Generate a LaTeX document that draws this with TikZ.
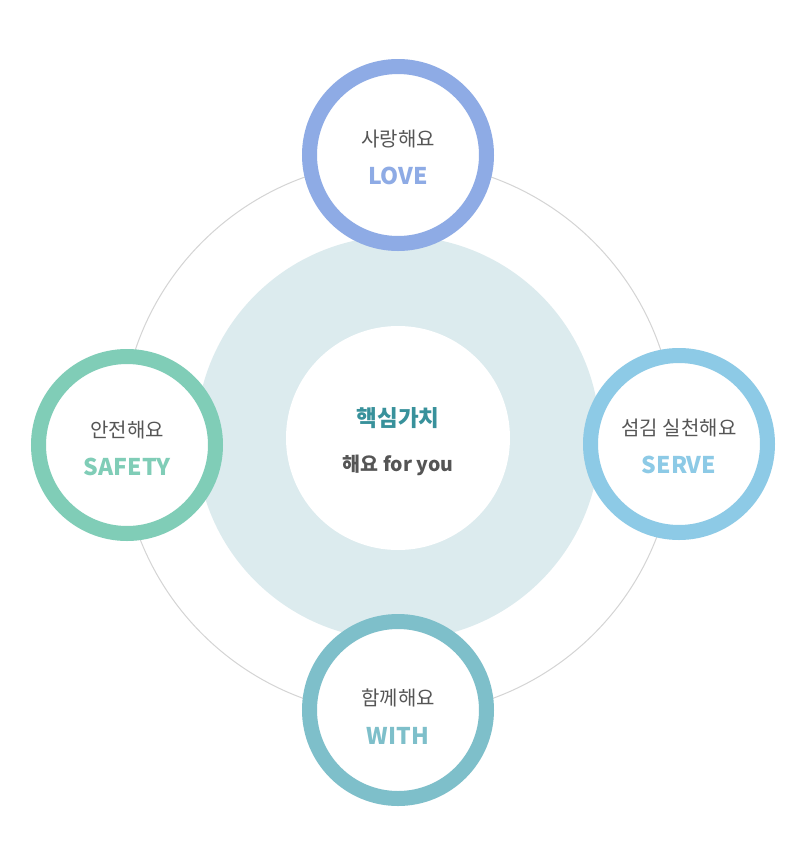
\documentclass[tikz,border=0pt]{standalone}
\usepackage{fontspec}
\setmainfont{Noto Sans CJK KR}
\usetikzlibrary{calc}
\definecolor{loveblue}{HTML}{8EABE5}
\definecolor{serveblue}{HTML}{8DCAE6}
\definecolor{safetygreen}{HTML}{80CDB7}
\definecolor{withteal}{HTML}{7EBFCA}
\definecolor{coredisc}{HTML}{DCEBEE}
\definecolor{coreteal}{HTML}{38919B}
\definecolor{graytext}{HTML}{555555}
\definecolor{thinline}{HTML}{D4D4D4}
\tikzset{
  ring/.style={circle,draw=#1,line width=15pt,fill=white,minimum size=177pt,inner sep=0pt},
  kolabel/.style={text=graytext,font=\fontsize{20}{20}\selectfont,inner sep=0pt},
  enlabel/.style={text=#1,font=\fontsize{23}{23}\selectfont\bfseries,inner sep=0pt},
}

\begin{document}
\begin{tikzpicture}[x=1pt,y=-1pt]
			\fill[white] (0,0) rectangle (808,855);
			\useasboundingbox (0,0) rectangle (808,855);
			\coordinate (mid) at (398,438);
			\draw[thinline,line width=1pt] (mid) circle (277pt);
			\fill[coredisc] (mid) circle (202pt);
			\node[circle,fill=white,minimum size=224pt,inner sep=0pt] (core) at (mid) {};
			\node[text=coreteal,font=\fontsize{22.5}{22.5}\selectfont\bfseries,inner sep=0pt] (core-ko) at ([yshift=20pt]core.center) {핵심가치};
			\node[text=graytext,font=\fontsize{19.5}{19.5}\selectfont\bfseries,inner sep=0pt] (core-en) at ([yshift=-27pt]core.center) {해요 for you};
			% four values
			\node[ring=loveblue] (love) at (398,155) {};
			\node[ring=serveblue] (serve) at (679,444) {};
			\node[ring=withteal] (with) at (398,710) {};
			\node[ring=safetygreen] (safety) at (127,445) {};
			\node[kolabel] (love-ko) at ([yshift=16pt]love.center) {사랑해요};
			\node[enlabel=loveblue] (love-en) at ([yshift=-21pt]love.center) {LOVE};
			\node[kolabel] (serve-ko) at ([yshift=16pt]serve.center) {섬김 실천해요};
			\node[enlabel=serveblue] (serve-en) at ([yshift=-21pt]serve.center) {SERVE};
			\node[kolabel] (with-ko) at ([yshift=12pt]with.center) {함께해요};
			\node[enlabel=withteal] (with-en) at ([yshift=-26pt]with.center) {WITH};
			\node[kolabel] (safety-ko) at ([yshift=15pt]safety.center) {안전해요};
			\node[enlabel=safetygreen] (safety-en) at ([yshift=-22pt]safety.center) {SAFETY};
		\end{tikzpicture}
\end{document}
